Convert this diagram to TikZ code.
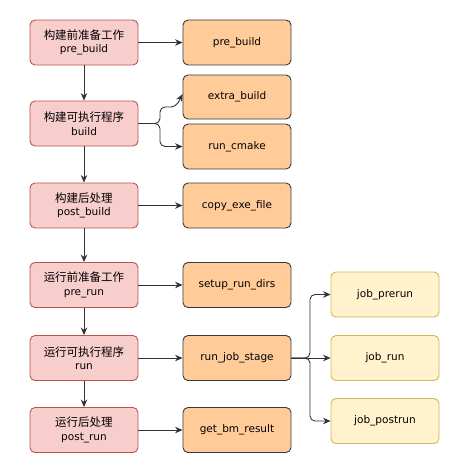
\documentclass[tikz,border=0pt]{standalone}
\usepackage{fontspec}
\setmainfont{DejaVu Sans}
\newfontfamily\cjk{Noto Sans CJK SC}
\usetikzlibrary{arrows.meta}
\definecolor{redfill}{HTML}{F8CECC}
\definecolor{redline}{HTML}{B85450}
\definecolor{orfill}{HTML}{FFCC99}
\definecolor{orline}{HTML}{36393D}
\definecolor{yefill}{HTML}{FFF2CC}
\definecolor{yeline}{HTML}{D6B656}
\definecolor{edgec}{HTML}{333333}
\tikzset{
  base/.style={rounded corners=5pt, line width=0.9pt, minimum width=108pt, minimum height=45pt, align=center, inner sep=0pt, font=\fontsize{10.5}{13.5}\selectfont},
  redbox/.style={base, fill=redfill, draw=redline},
  orbox/.style={base, fill=orfill, draw=orline},
  yebox/.style={base, fill=yefill, draw=yeline},
  edge/.style={draw=edgec, line width=0.9pt, -{Stealth[length=7.5pt,width=6.5pt]}},
  bedge/.style={edge, rounded corners=5pt},
}
\begin{document}
\begin{tikzpicture}[x=1pt,y=-1pt]
\useasboundingbox (0,0) rectangle (463,467);
% left column
\node[redbox] (a1) at (84,42.5) {{\cjk\fontsize{11.5}{13.5}\selectfont 构建前准备工作}\\pre\_build};
\node[redbox] (a2) at (84,123.5) {{\cjk\fontsize{11.5}{13.5}\selectfont 构建可执行程序}\\build};
\node[redbox] (a3) at (84,205.5) {{\cjk\fontsize{11.5}{13.5}\selectfont 构建后处理}\\post\_build};
\node[redbox] (a4) at (84,285) {{\cjk\fontsize{11.5}{13.5}\selectfont 运行前准备工作}\\pre\_run};
\node[redbox] (a5) at (84,358) {{\cjk\fontsize{11.5}{13.5}\selectfont 运行可执行程序}\\run};
\node[redbox] (a6) at (84,430) {{\cjk\fontsize{11.5}{13.5}\selectfont 运行后处理}\\post\_run};
% middle column
\node[orbox] (b1) at (237,42.5) {pre\_build};
\node[orbox, minimum height=44pt] (b2) at (237,97) {extra\_build};
\node[orbox] (b3) at (237,146.5) {run\_cmake};
\node[orbox] (b4) at (237,205.5) {copy\_exe\_file};
\node[orbox] (b5) at (237,285) {setup\_run\_dirs};
\node[orbox] (b6) at (237,358) {run\_job\_stage};
\node[orbox] (b7) at (237,430) {get\_bm\_result};
% right column
\node[yebox] (c1) at (385,294.5) {job\_prerun};
\node[yebox] (c2) at (385,358) {job\_run};
\node[yebox] (c3) at (385,421) {job\_postrun};
% vertical arrows
\draw[edge] (a1) -- (a2);
\draw[edge] (a2) -- (a3);
\draw[edge] (a3) -- (a4);
\draw[edge] (a4) -- (a5);
\draw[edge] (a5) -- (a6);
% horizontal arrows
\draw[edge] (a1) -- (b1);
\draw[edge] (a3) -- (b4);
\draw[edge] (a4) -- (b5);
\draw[edge] (a5) -- (b6);
\draw[edge] (a6) -- (b7);
% build branches
\draw[bedge] (a2.east) -- (160,123.5) -- (160,107) -- (176,107) -- ([yshift=3pt]b2.west);
\draw[bedge] (a2.east) -- (160,123.5) -- (160,146.5) -- (b3.west);
% job branches
\draw[bedge] (b6.east) -- (310,358) -- (310,294.5) -- (c1.west);
\draw[edge] (b6.east) -- (c2.west);
\draw[bedge] (b6.east) -- (310,358) -- (310,421) -- (c3.west);
\end{tikzpicture}
\end{document}
